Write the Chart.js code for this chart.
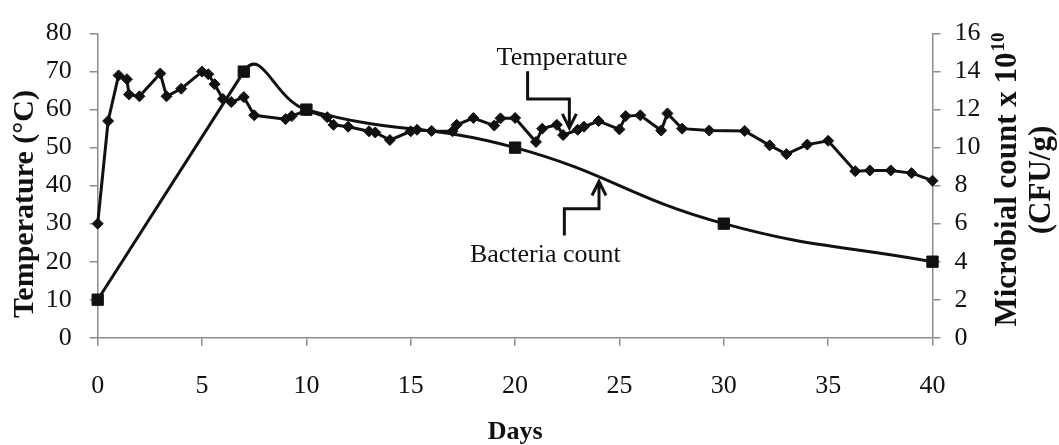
<!DOCTYPE html>
<html>
<head>
<meta charset="utf-8">
<script src="https://cdn.jsdelivr.net/npm/chart.js@4/dist/chart.umd.min.js"></script>
<style>
  html, body { margin: 0; padding: 0; background: #fff; }
  #wrap { width: 1059px; height: 445px; }
</style>
</head>
<body>
<div id="wrap"><canvas id="chart" width="1059" height="445"></canvas></div>
<script>
/* Compost run: pile temperature vs. bacteria count over 40 days */

const tempDays   = [0, 0.5, 1, 1.4, 1.5, 2, 3, 3.3, 4, 5,
                    5.3, 5.6, 6, 6.4, 7, 7.5, 9, 9.3, 10, 11,
                    11.3, 12, 13, 13.3, 14, 15, 15.3, 16, 17, 17.2,
                    18, 19, 19.3, 20, 21, 21.3, 22, 22.3, 23, 23.3,
                    24, 25, 25.3, 26, 27, 27.3, 28, 29.3, 31, 32.2,
                    33, 34, 35, 36.3, 37, 38, 39, 40];
const tempValues = [30, 57, 69, 68, 64, 63.5, 69.5, 63.5, 65.5, 70,
                    69.3, 66.7, 62.8, 62, 63.3, 58.5, 57.5, 58.3, 59.8, 58,
                    56, 55.5, 54.3, 54, 52, 54.3, 54.7, 54.4, 54.3, 56,
                    57.8, 55.8, 57.7, 57.8, 51.5, 55, 56, 53.3, 54.7, 55.5,
                    57, 54.8, 58.3, 58.5, 54.5, 59, 55, 54.5, 54.4, 50.6,
                    48.3, 50.8, 51.8, 43.8, 44, 44, 43.3, 41.3];

const countDays   = [0, 7, 10, 20, 30, 40];
const countValues = [2, 14, 12, 10, 6, 4];   // x 10^10 CFU/g

const dayTicks   = [0, 5, 10, 15, 20, 25, 30, 35, 40];
const tempTicks  = [0, 10, 20, 30, 40, 50, 60, 70, 80];
const countTicks = [0, 2, 4, 6, 8, 10, 12, 14, 16];

// callouts, in (day, °C) units
const tempLabel  = { text: 'Temperature',    day: 22.25, temp: 73.6 };
const tempArrow  = [[20.6, 70.1], [20.6, 62.8], [22.6, 62.8], [22.6, 55.2]];
const countLabel = { text: 'Bacteria count', day: 21.45, temp: 21.8 };
const countArrow = [[22.36, 26.9], [22.36, 33.9], [24.02, 33.9], [24.02, 41.1]];

const SERIF = "'Liberation Serif', 'Times New Roman', serif";
const INK   = '#111';
const AXIS  = '#8c8c8c';

const toXY = (xs, ys) => xs.map((x, i) => ({ x, y: ys[i] }));

function drawArrow(ctx, pts) {
  ctx.beginPath();
  ctx.moveTo(pts[0][0], pts[0][1]);
  for (let i = 1; i < pts.length; i++) ctx.lineTo(pts[i][0], pts[i][1]);
  const [tx, ty] = pts[pts.length - 1];
  const dir = ty > pts[pts.length - 2][1] ? -1 : 1;   // head points down or up
  ctx.moveTo(tx - 7, ty + dir * 14);
  ctx.lineTo(tx, ty);
  ctx.lineTo(tx + 7, ty + dir * 14);
  ctx.stroke();
}

// Rising limb of the count curve is a straight run into the peak, which then
// carries on past it before turning down (spreadsheet-style smoothing).
const countCurve = {
  id: 'countCurve',
  beforeDatasetDraw(chart, args) {
    if (args.index !== 1) return;
    const meta = args.meta;
    meta.dataset.updateControlPoints(chart.chartArea, 'x');
    const [p0, p1] = meta.data;
    const dx = p1.x - p0.x, dy = p1.y - p0.y;
    const len = Math.hypot(dx, dy);
    p0.cp2x = p0.x + dx / 3;  p0.cp2y = p0.y + dy / 3;
    p1.cp1x = p1.x - dx / 3;  p1.cp1y = p1.y - dy / 3;
    p1.cp2x = p1.x + dx / len * 33;
    p1.cp2y = p1.y + dy / len * 33;
  }
};

const annotations = {
  id: 'annotations',
  afterDraw(chart) {
    const { ctx, scales: { x, y } } = chart;
    const px = d => x.getPixelForValue(d);
    const py = t => y.getPixelForValue(t);

    ctx.save();
    ctx.fillStyle = INK;
    ctx.strokeStyle = INK;
    ctx.lineWidth = 3;
    ctx.lineJoin = 'miter';
    ctx.textAlign = 'center';
    ctx.textBaseline = 'middle';

    // callout labels + arrows
    ctx.font = `26px ${SERIF}`;
    ctx.fillText(tempLabel.text, px(tempLabel.day), py(tempLabel.temp));
    ctx.fillText(countLabel.text, px(countLabel.day), py(countLabel.temp));
    drawArrow(ctx, tempArrow.map(p => [px(p[0]), py(p[1])]));
    drawArrow(ctx, countArrow.map(p => [px(p[0]), py(p[1])]));

    // x title
    ctx.font = `bold 26px ${SERIF}`;
    ctx.fillText('Days', (x.left + x.right) / 2, 432);

    // left title
    ctx.save();
    ctx.translate(25, 204);
    ctx.rotate(-Math.PI / 2);
    ctx.font = `bold 30px ${SERIF}`;
    ctx.fillText('Temperature (°C)', 0, 0);
    ctx.restore();

    // right title, two lines with a superscript exponent
    ctx.save();
    ctx.translate(1008, 180);
    ctx.rotate(-Math.PI / 2);
    const main = 'Microbial count x 10', sup = '10';
    ctx.font = `bold 31px ${SERIF}`;
    const wMain = ctx.measureText(main).width;
    ctx.font = `bold 19px ${SERIF}`;
    const wSup = ctx.measureText(sup).width;
    const start = -(wMain + wSup) / 2;
    ctx.textAlign = 'left';
    ctx.font = `bold 31px ${SERIF}`;
    ctx.fillText(main, start, 0);
    ctx.font = `bold 19px ${SERIF}`;
    ctx.fillText(sup, start + wMain + 1, -9);
    ctx.textAlign = 'center';
    ctx.font = `bold 31px ${SERIF}`;
    ctx.fillText('(CFU/g)', 0, 34);
    ctx.restore();

    ctx.restore();
  }
};

const axisGrid = { drawOnChartArea: false, drawTicks: true, tickLength: 8, color: AXIS, lineWidth: 1.5 };
const axisBorder = { display: true, color: AXIS, width: 1.5 };
const tickFont = { family: SERIF, size: 26 };

new Chart(document.getElementById('chart'), {
  type: 'line',
  data: {
    datasets: [
      {
        label: 'Temperature',
        data: toXY(tempDays, tempValues),
        yAxisID: 'y',
        borderColor: INK,
        backgroundColor: INK,
        borderWidth: 3,
        tension: 0,
        pointStyle: 'rectRot',
        pointRadius: 5.5,
        pointBorderWidth: 1,
        clip: false,
      },
      {
        label: 'Bacteria count',
        data: toXY(countDays, countValues),
        yAxisID: 'y2',
        borderColor: INK,
        backgroundColor: INK,
        borderWidth: 3,
        tension: 0.45,
        cubicInterpolationMode: 'default',
        pointStyle: 'rect',
        pointRadius: 8,
        pointBorderWidth: 1,
        clip: false,
      }
    ]
  },
  options: {
    responsive: false,
    animation: false,
    layout: { padding: { top: 26.5, left: 0, right: 0, bottom: 0 } },
    plugins: { legend: { display: false }, tooltip: { enabled: false } },
    scales: {
      x: {
        type: 'linear',
        min: 0, max: 40,
        afterBuildTicks: s => { s.ticks = dayTicks.map(v => ({ value: v })); },
        afterFit: s => { s.height = 107.3; },
        grid: axisGrid,
        border: axisBorder,
        ticks: { font: tickFont, color: INK, padding: 25, maxRotation: 0 }
      },
      y: {
        position: 'left',
        min: 0, max: 80,
        afterBuildTicks: s => { s.ticks = tempTicks.map(v => ({ value: v })); },
        afterFit: s => { s.width = 97.7; },
        grid: axisGrid,
        border: axisBorder,
        ticks: { font: tickFont, color: INK, padding: 18 }
      },
      y2: {
        position: 'right',
        min: 0, max: 16,
        afterBuildTicks: s => { s.ticks = countTicks.map(v => ({ value: v })); },
        afterFit: s => { s.width = 126.5; },
        grid: axisGrid,
        border: axisBorder,
        ticks: { font: tickFont, color: INK, padding: 14 }
      }
    }
  },
  plugins: [countCurve, annotations]
});
</script>
</body>
</html>
